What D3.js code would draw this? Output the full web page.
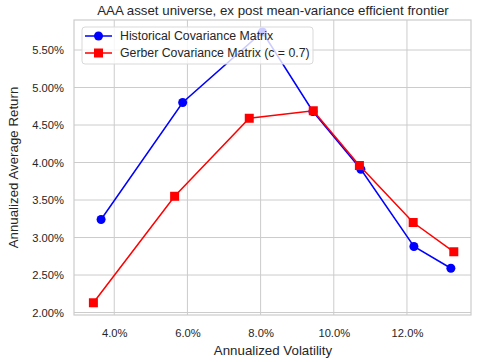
<!DOCTYPE html>
<html><head><meta charset="utf-8">
<script src="https://cdn.jsdelivr.net/npm/d3@7"></script>
<style>body{margin:0;background:#fff}svg{font-family:"Liberation Sans",Arial,sans-serif}</style>
</head><body><svg id="c" width="481" height="362"></svg>
<script>
const histVol = [3.64, 5.87, 8.05, 9.43, 10.74, 12.19, 13.20];
const histRet = [3.24, 4.80, 5.74, 4.68, 3.91, 2.88, 2.59];
const gerbVol = [3.43, 5.65, 7.69, 9.44, 10.70, 12.17, 13.28];
const gerbRet = [2.13, 3.55, 4.59, 4.69, 3.96, 3.20, 2.81];
const xTicks = [4, 6, 8, 10, 12];
const yTicks = [2.0, 2.5, 3.0, 3.5, 4.0, 4.5, 5.0, 5.5];
const seriesNames = ["Historical Covariance Matrix", "Gerber Covariance Matrix (c = 0.7)"];

const svg = d3.select("#c");
const L = 74, R = 471, T = 20, B = 315;
const x = d3.scaleLinear().domain([2.90, 13.75]).range([L, R]);
const y = d3.scaleLinear().domain([1.967, 5.90]).range([B, T]);
const grid = "#cccccc", txt = "#262626";

const g = svg.append("g");
g.selectAll(".gx").data(xTicks).join("line").attr("x1", d => x(d)).attr("x2", d => x(d))
  .attr("y1", T).attr("y2", B).attr("stroke", grid).attr("stroke-width", 1);
g.selectAll(".gy").data(yTicks).join("line").attr("y1", d => y(d)).attr("y2", d => y(d))
  .attr("x1", L).attr("x2", R).attr("stroke", grid).attr("stroke-width", 1);
g.append("rect").attr("x", L).attr("y", T).attr("width", R - L).attr("height", B - T)
  .attr("fill", "none").attr("stroke", grid).attr("stroke-width", 1.2);

const xa = svg.append("g").attr("transform", `translate(0,${B})`)
  .call(d3.axisBottom(x).tickValues(xTicks).tickSize(0).tickPadding(14).tickFormat(d => d.toFixed(1) + "%"));
const ya = svg.append("g").attr("transform", `translate(${L},0)`)
  .call(d3.axisLeft(y).tickValues(yTicks).tickSize(0).tickPadding(10).tickFormat(d => d.toFixed(2) + "%"));
[xa, ya].forEach(a => { a.select(".domain").remove(); a.selectAll("text").attr("fill", txt).style("font-size", "11.2px"); });

svg.append("text").attr("x", 273).attr("y", 15).attr("text-anchor", "middle").attr("fill", txt)
  .style("font-size", "13.3px").text("AAA asset universe, ex post mean-variance efficient frontier");
svg.append("text").attr("x", 273).attr("y", 355).attr("text-anchor", "middle").attr("fill", txt)
  .style("font-size", "13.3px").text("Annualized Volatility");
svg.append("text").attr("transform", `translate(18,${(T + B) / 2}) rotate(-90)`).attr("text-anchor", "middle").attr("fill", txt)
  .style("font-size", "13.3px").text("Annualized Average Return");

const line = d3.line().x(d => x(d[0])).y(d => y(d[1]));
const hist = histVol.map((v, i) => [v, histRet[i]]);
const gerb = gerbVol.map((v, i) => [v, gerbRet[i]]);

svg.append("path").datum(hist).attr("d", line).attr("fill", "none").attr("stroke", "blue").attr("stroke-width", 1.5);
svg.selectAll(".hc").data(hist).join("circle").attr("cx", d => x(d[0])).attr("cy", d => y(d[1])).attr("r", 4.5).attr("fill", "blue");
svg.append("path").datum(gerb).attr("d", line).attr("fill", "none").attr("stroke", "red").attr("stroke-width", 1.5);
svg.selectAll(".gs").data(gerb).join("rect").attr("x", d => x(d[0]) - 4.5).attr("y", d => y(d[1]) - 4.5)
  .attr("width", 9).attr("height", 9).attr("fill", "red");

const lg = svg.append("g");
lg.append("rect").attr("x", 82).attr("y", 27).attr("width", 231).attr("height", 37).attr("rx", 3)
  .attr("fill", "white").attr("fill-opacity", 0.8).attr("stroke", "#d9d9d9");
const cols = ["blue", "red"];
seriesNames.forEach((n, i) => {
  const yy = 36 + i * 17;
  lg.append("line").attr("x1", 85).attr("x2", 112).attr("y1", yy).attr("y2", yy).attr("stroke", cols[i]).attr("stroke-width", 1.5);
  if (i === 0) lg.append("circle").attr("cx", 98.5).attr("cy", yy).attr("r", 4.5).attr("fill", cols[i]);
  else lg.append("rect").attr("x", 94).attr("y", yy - 4.5).attr("width", 9).attr("height", 9).attr("fill", cols[i]);
  lg.append("text").attr("x", 120).attr("y", yy + 4.3).attr("fill", txt).style("font-size", "12.3px").text(n);
});
</script></body></html>
